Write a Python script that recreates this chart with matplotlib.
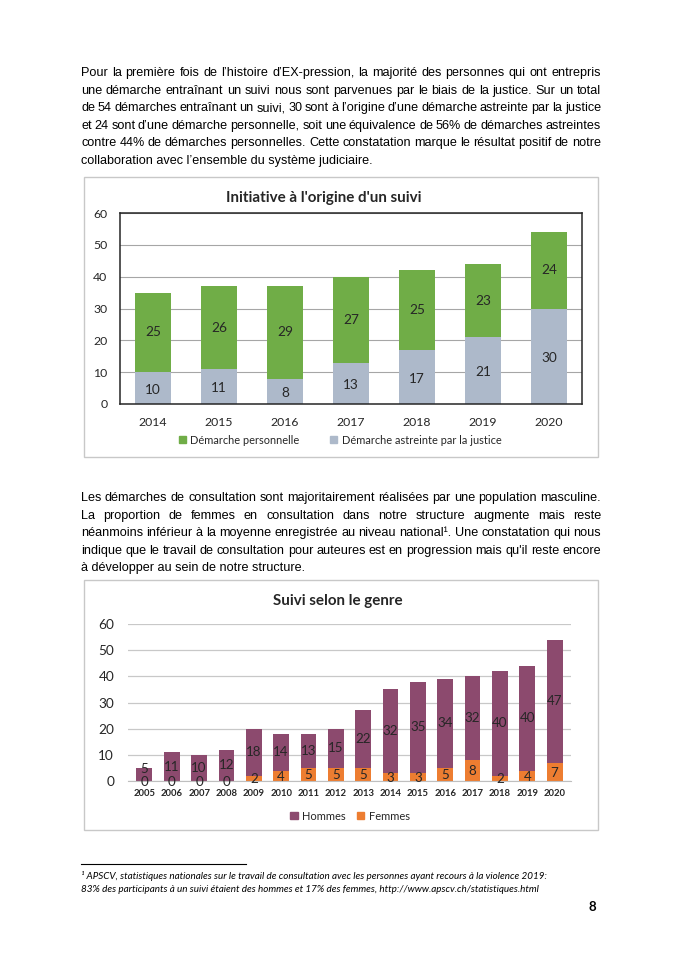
import matplotlib
matplotlib.use("Agg")
import matplotlib.pyplot as plt
from matplotlib.patches import Rectangle, Patch
from matplotlib.lines import Line2D

W, H = 684, 968

# --- data ---
years_init = ["2014", "2015", "2016", "2017", "2018", "2019", "2020"]
astreinte = [10, 11, 8, 13, 17, 21, 30]
personnelle = [25, 26, 29, 27, 25, 23, 24]

years_genre = ["2005", "2006", "2007", "2008", "2009", "2010", "2011", "2012",
               "2013", "2014", "2015", "2016", "2017", "2018", "2019", "2020"]
femmes = [0, 0, 0, 0, 2, 4, 5, 5, 5, 3, 3, 5, 8, 2, 4, 7]
hommes = [5, 11, 10, 12, 18, 14, 13, 15, 22, 32, 35, 34, 32, 40, 40, 47]

para1 = [
    "Pour la première fois de l’histoire d’EX-pression, la majorité des personnes qui ont entrepris",
    "une démarche entraînant un suivi nous sont parvenues par le biais de la justice. Sur un total",
    "de 54 démarches entraînant un suivi, 30 sont à l’origine d’une démarche astreinte par la justice",
    "et 24 sont d’une démarche personnelle, soit une équivalence de 56% de démarches astreintes",
    "contre 44% de démarches personnelles. Cette constatation marque le résultat positif de notre",
    "collaboration avec l’ensemble du système judiciaire.",
]
para2 = [
    "Les démarches de consultation sont majoritairement réalisées par une population masculine.",
    "La proportion de femmes en consultation dans notre structure augmente mais reste",
    "néanmoins inférieur à la moyenne enregistrée au niveau national¹. Une constatation qui nous",
    "indique que le travail de consultation pour auteures est en progression mais qu'il reste encore",
    "à développer au sein de notre structure.",
]
footnote = [
    "¹ APSCV, statistiques nationales sur le travail de consultation avec les personnes ayant recours à la violence 2019:",
    "83% des participants à un suivi étaient des hommes et 17% des femmes, http://www.apscv.ch/statistiques.html",
]

fig = plt.figure(figsize=(W / 100, H / 100), dpi=100)
fig.patch.set_facecolor("white")
renderer = fig.canvas.get_renderer()


def fx(x):
    return x / W


def fy(y):
    return 1 - y / H


def px_box(x0, y0, x1, y1):
    return [fx(x0), fy(y1), (x1 - x0) / W, (y1 - y0) / H]


def justified(lines, x0, x1, y0, dy, **kw):
    for i, line in enumerate(lines):
        y = fy(y0 + i * dy)
        if i == len(lines) - 1:
            fig.text(fx(x0), y, line, va="baseline", ha="left", **kw)
            continue
        words = line.split(" ")
        texts = [fig.text(0, y, w, va="baseline", ha="left", **kw) for w in words]
        widths = [t.get_window_extent(renderer).width for t in texts]
        gap = (x1 - x0 - sum(widths)) / (len(words) - 1)
        x = x0
        for t, w in zip(texts, widths):
            t.set_x(fx(x))
            x += w + gap


txt_kw = dict(family="Liberation Sans", fontsize=9.1, color="black")
justified(para1, 81, 601, 76, 17.6, **txt_kw)
justified(para2, 81, 601, 501, 17.6, **txt_kw)

lab_kw = dict(family="Lato", color="#262626")

# --- chart 1 frame ---
fig.patches.append(Rectangle((fx(84), fy(457)), (598 - 84) / W, (457 - 177) / H,
                             transform=fig.transFigure, fill=False,
                             edgecolor="#C8C8C8", linewidth=1))

ax1 = fig.add_axes(px_box(120, 213, 582, 404))
x1 = range(len(years_init))
ax1.bar(x1, astreinte, width=0.56, color="#ADB9CA", zorder=2)
ax1.bar(x1, personnelle, width=0.56, bottom=astreinte, color="#70AD47", zorder=2)
for i in x1:
    ax1.text(i, astreinte[i] / 2 - 0.5, str(astreinte[i]), ha="center", va="center",
             fontsize=9.8, **lab_kw)
    ax1.text(i, astreinte[i] + personnelle[i] / 2, str(personnelle[i]), ha="center",
             va="center", fontsize=9.8, **lab_kw)
ax1.set_xlim(-0.5, 6.5)
ax1.set_ylim(0, 60)
ax1.set_yticks(range(0, 61, 10))
ax1.set_xticks(list(x1))
ax1.set_xticklabels(years_init)
ax1.yaxis.grid(True, color="#A6A6A6", linewidth=0.8, zorder=0)
ax1.set_axisbelow(True)
ax1.tick_params(length=0, labelsize=8.8, colors="#262626", pad=9)
for lab in ax1.get_xticklabels() + ax1.get_yticklabels():
    lab.set_family("Lato")
for s in ax1.spines.values():
    s.set_color("#262626")
    s.set_linewidth(1.1)
fig.text(fx(324), fy(198), "Initiative à l'origine d'un suivi", ha="center", va="center",
         fontweight="bold", fontsize=10.9, **lab_kw)
leg1 = [Patch(color="#70AD47", label="Démarche personnelle"),
        Patch(color="#ADB9CA", label="Démarche astreinte par la justice")]
fig.legend(handles=leg1, loc="center", bbox_to_anchor=(fx(340), fy(440)), ncol=2,
           frameon=False, handlelength=0.65, handleheight=0.65, handletextpad=0.4,
           columnspacing=2.8, prop=dict(family="Lato", size=7.9), labelcolor="#262626")

# --- chart 2 frame ---
fig.patches.append(Rectangle((fx(84), fy(830)), (598 - 84) / W, (830 - 580) / H,
                             transform=fig.transFigure, fill=False,
                             edgecolor="#C8C8C8", linewidth=1))

ax2 = fig.add_axes(px_box(128, 624, 571, 781))
x2 = range(len(years_genre))
ax2.bar(x2, femmes, width=0.58, color="#ED7D31", zorder=2)
ax2.bar(x2, hommes, width=0.58, bottom=femmes, color="#8C4A6E", zorder=2)
for i in x2:
    ax2.text(i, femmes[i] / 2 - 0.3, str(femmes[i]), ha="center", va="center",
             fontsize=9.6, zorder=3, **lab_kw)
    ax2.text(i, max(femmes[i] + hommes[i] / 2, 4.6), str(hommes[i]), ha="center",
             va="center", fontsize=9.6, zorder=3, **lab_kw)
ax2.set_xlim(-0.6, 15.6)
ax2.set_ylim(0, 60)
ax2.set_yticks(range(0, 61, 10))
ax2.set_xticks(list(x2))
ax2.set_xticklabels(years_genre)
ax2.yaxis.grid(True, color="#C8C8C8", linewidth=0.9, zorder=0)
ax2.set_axisbelow(True)
ax2.tick_params(axis="y", length=0, labelsize=9.8, colors="#262626", pad=10)
ax2.tick_params(axis="x", length=0, labelsize=6.8, colors="#262626", pad=6)
for lab in ax2.get_xticklabels():
    lab.set_family("Lato")
    lab.set_fontweight("bold")
for lab in ax2.get_yticklabels():
    lab.set_family("Lato")
for k in ["left", "top", "right"]:
    ax2.spines[k].set_visible(False)
ax2.spines["bottom"].set_color("#BFBFBF")
fig.text(fx(338), fy(601), "Suivi selon le genre", ha="center", va="center",
         fontweight="bold", fontsize=10.9, **lab_kw)
leg2 = [Patch(color="#8C4A6E", label="Hommes"), Patch(color="#ED7D31", label="Femmes")]
fig.legend(handles=leg2, loc="center", bbox_to_anchor=(fx(350), fy(816)), ncol=2,
           frameon=False, handlelength=0.65, handleheight=0.65, handletextpad=0.4,
           columnspacing=1.0, prop=dict(family="Lato", size=8), labelcolor="#262626")

# --- footnote ---
fig.lines.append(Line2D([fx(81), fx(246)], [fy(864), fy(864)], transform=fig.transFigure,
                        color="black", linewidth=0.8))
for i, line in enumerate(footnote):
    fig.text(fx(81), fy(879 + i * 13), line, ha="left", va="baseline", family="Lato",
             style="italic", fontsize=7.1, color="black")
fig.text(fx(592), fy(911), "8", ha="center", va="baseline", family="Lato",
         fontweight="bold", fontsize=9.5, color="black")

fig.savefig("out.png", dpi=100, facecolor="white")
